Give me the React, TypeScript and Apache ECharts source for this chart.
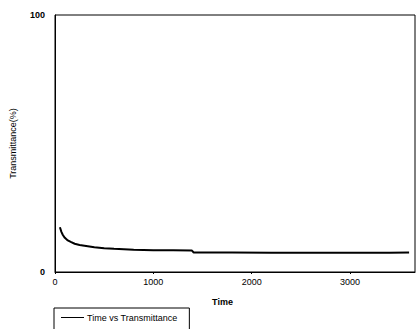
import React, { useEffect, useRef } from "react";
import * as echarts from "echarts";

const seriesName = "Time vs Transmittance";
const times = [50, 65, 80, 100, 130, 160, 200, 250, 300, 400, 500, 600, 800, 1000, 1200, 1390, 1410, 1800, 2200, 2600, 3000, 3400, 3600];
const transmittance = [17.4, 15.6, 14.4, 13.3, 12.3, 11.7, 11.0, 10.5, 10.2, 9.6, 9.2, 9.0, 8.7, 8.5, 8.45, 8.4, 7.6, 7.55, 7.5, 7.5, 7.5, 7.5, 7.6];
const xTicks = [0, 1000, 2000, 3000];
const yTicks = [0, 100];

export default function App() {
  const ref = useRef<HTMLDivElement>(null);
  useEffect(() => {
    const chart = echarts.init(ref.current!, null, { renderer: "svg" });
    const font = "Liberation Sans, Arial, sans-serif";
    chart.setOption({
      animation: false,
      backgroundColor: "#fff",
      grid: { left: 54, top: 15, right: 2, bottom: 57, show: true, borderColor: "#000", borderWidth: 1 },
      xAxis: {
        type: "value",
        min: 0,
        max: 3660,
        interval: 1000,
        name: "Time",
        nameLocation: "middle",
        nameGap: 25,
        nameTextStyle: { color: "#000", fontFamily: font, fontSize: 9, fontWeight: "bold", padding: [0, 25, 0, 0] },
        axisLine: { lineStyle: { color: "#000", width: 1 } },
        axisTick: { show: true, length: 2, lineStyle: { color: "#000" } },
        splitLine: { show: false },
        axisLabel: {
          color: "#000",
          fontFamily: font,
          fontSize: 9,
          margin: 5,
          showMaxLabel: false,
          formatter: (v: number) => (xTicks.includes(v) ? String(v) : ""),
        },
      },
      yAxis: {
        type: "value",
        min: 0,
        max: 100,
        interval: 100,
        name: "Transmittance(%)",
        nameLocation: "middle",
        nameRotate: 90,
        nameGap: 38,
        nameTextStyle: { color: "#000", fontFamily: font, fontSize: 9 },
        axisLine: { show: true, lineStyle: { color: "#000", width: 1 } },
        axisTick: { show: false },
        splitLine: { show: false },
        axisLabel: {
          color: "#000",
          fontFamily: font,
          fontSize: 9,
          fontWeight: "bold",
          margin: 10,
          formatter: (v: number) => (yTicks.includes(v) ? String(v) : ""),
        },
      },
      legend: {
        show: true,
        left: 54,
        top: 308,
        orient: "horizontal",
        borderColor: "#000",
        borderWidth: 1,
        padding: [5, 12, 20, 7],
        itemWidth: 23,
        itemHeight: 6,
        itemGap: 4,
        textStyle: { color: "#000", fontFamily: font, fontSize: 9, padding: [0, 0, 0, -2] },
        data: [{ name: seriesName, icon: "path://M0,0 L23,0 L23,1 L0,1 Z" }],
      },
      series: [
        {
          name: seriesName,
          type: "line",
          symbol: "none",
          showSymbol: false,
          lineStyle: { color: "#000", width: 2 },
          itemStyle: { color: "#000" },
          data: times.map((t, i) => [t, transmittance[i]]),
        },
      ],
    });
    return () => chart.dispose();
  }, []);
  return <div ref={ref} style={{ width: 417, height: 329, position: "absolute", left: 0, top: 0 }} />;
}
